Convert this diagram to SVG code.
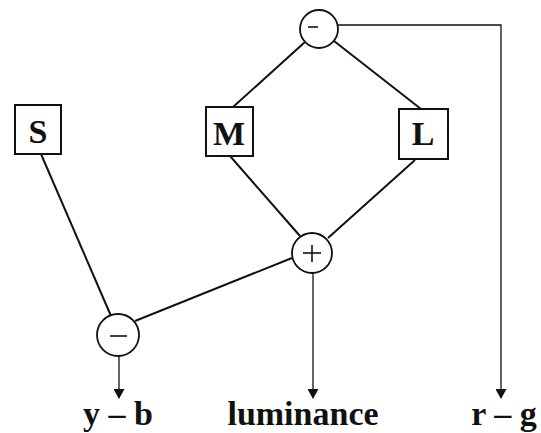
<svg xmlns="http://www.w3.org/2000/svg" width="541" height="433" viewBox="0 0 541 433">
<style>
.box{fill:#fff;stroke:#111;stroke-width:2}
.circ{fill:#fff;stroke:#111;stroke-width:1.8}
.lbl{font-family:"Liberation Serif",serif;font-weight:bold;font-size:34px;fill:#111;text-anchor:middle}
.out{font-family:"Liberation Serif",serif;font-weight:bold;font-size:34px;fill:#111;text-anchor:middle}
.sign{stroke:#111;stroke-width:1.6;fill:none}
.edge{stroke:#111;stroke-width:2;fill:none}
.thin{stroke:#111;stroke-width:1.3;fill:none}
</style>
<defs>
<marker id="ah" markerWidth="10" markerHeight="11" refX="9" refY="5.5" orient="auto" markerUnits="userSpaceOnUse">
<path d="M0,0 L10,5.5 L0,11 Z" fill="#111"/>
</marker>
</defs>
<rect width="541" height="433" fill="#fff"/>
<g id="connectors">
<line class="edge" x1="305" y1="42" x2="233" y2="107"/>
<line class="edge" x1="334" y1="41" x2="421" y2="109"/>
<line class="edge" x1="230" y1="156" x2="300" y2="236"/>
<line class="edge" x1="415" y1="160" x2="328" y2="238"/>
<line class="edge" x1="41" y1="154" x2="111" y2="316"/>
<line class="edge" x1="292" y1="258" x2="135" y2="321"/>
<polyline class="thin" points="338,25 501,25 501,398" marker-end="url(#ah)"/>
<line class="thin" x1="313" y1="273" x2="313" y2="398" marker-end="url(#ah)"/>
<line class="thin" x1="119" y1="356" x2="119" y2="398" marker-end="url(#ah)"/>
</g>
<g id="minus-top">
<circle class="circ" cx="319" cy="29" r="19"/>
<line class="sign" x1="308" y1="27" x2="318" y2="27"/>
</g>
<g id="S">
<rect class="box" x="15" y="105" width="46" height="49"/>
<text class="lbl" x="38" y="143">S</text>
</g>
<g id="M">
<rect class="box" x="206" y="107" width="47" height="49"/>
<text class="lbl" x="229" y="145">M</text>
</g>
<g id="L">
<rect class="box" x="399" y="109" width="49" height="50"/>
<text class="lbl" x="423" y="145">L</text>
</g>
<g id="plus">
<circle class="circ" cx="312" cy="253" r="20"/>
<line class="sign" x1="303" y1="253" x2="321" y2="253"/>
<line class="sign" x1="312" y1="245" x2="312" y2="262"/>
</g>
<g id="minus-bottom">
<circle class="circ" cx="118" cy="335" r="21"/>
<line class="sign" x1="110" y1="336" x2="127" y2="336"/>
</g>
<g id="labels">
<text class="out" x="118" y="425">y – b</text>
<text class="out" x="303" y="425">luminance</text>
<text class="out" x="504" y="425">r – g</text>
</g>
</svg>
